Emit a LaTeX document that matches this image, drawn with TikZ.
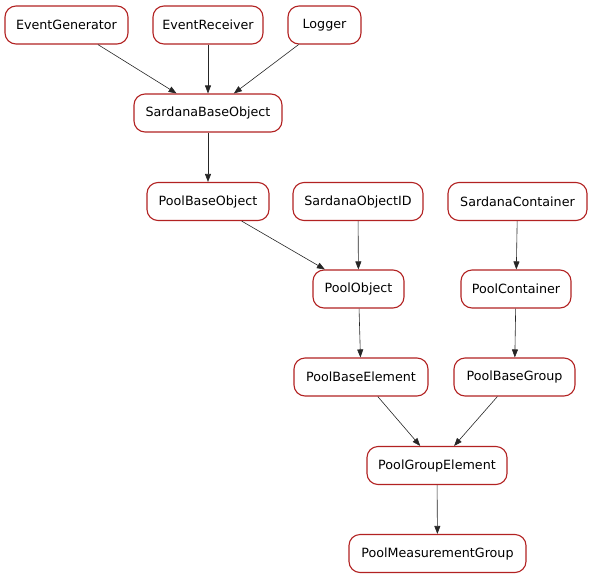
\documentclass[tikz,border=0pt]{standalone}
\usepackage{fontspec}
\setmainfont{DejaVu Sans}
\usetikzlibrary{arrows.meta}
\definecolor{nodeborder}{RGB}{178,34,34}
\begin{document}
\begin{tikzpicture}[x=1pt,y=-1pt,
  cls/.style={draw=nodeborder, line width=1.1pt, rounded corners=11pt, fill=white,
    minimum height=38pt, inner sep=0pt, font=\fontsize{12.7}{15}\selectfont, text=black},
  inh/.style={draw=black!85, line width=0.6pt, -{Triangle[length=8pt,width=6pt]}}]
\useasboundingbox (0,0) rectangle (592,579);
\node[cls, minimum width=123pt] (EG) at (66.5,25) {EventGenerator};
\node[cls, minimum width=110pt] (ER) at (208,25) {EventReceiver};
\node[cls, minimum width=73pt] (LG) at (324.5,25) {Logger};
\node[cls, minimum width=148pt] (SBO) at (208,113) {SardanaBaseObject};
\node[cls, minimum width=122pt] (PBO) at (208,201.5) {PoolBaseObject};
\node[cls, minimum width=130pt] (SOI) at (358,201.5) {SardanaObjectID};
\node[cls, minimum width=139pt] (SC) at (517.5,201.5) {SardanaContainer};
\node[cls, minimum width=91pt] (PO) at (358.5,289) {PoolObject};
\node[cls, minimum width=110pt] (PC) at (516,289) {PoolContainer};
\node[cls, minimum width=134pt] (PBE) at (361,377) {PoolBaseElement};
\node[cls, minimum width=121pt] (PBG) at (514.5,377) {PoolBaseGroup};
\node[cls, minimum width=140pt] (PGE) at (437,465.5) {PoolGroupElement};
\node[cls, minimum width=177pt] (PMG) at (437.5,553.5) {PoolMeasurementGroup};
\draw[inh] (EG) -- (SBO);
\draw[inh] (ER) -- (SBO);
\draw[inh] (LG) -- (SBO);
\draw[inh] (SBO) -- (PBO);
\draw[inh] (PBO) -- (PO);
\draw[inh] (SOI) -- (PO);
\draw[inh] (SC) -- (PC);
\draw[inh] (PO) -- (PBE);
\draw[inh] (PC) -- (PBG);
\draw[inh] (PBE) -- (PGE);
\draw[inh] (PBG) -- (PGE);
\draw[inh] (PGE) -- (PMG);
\end{tikzpicture}
\end{document}
